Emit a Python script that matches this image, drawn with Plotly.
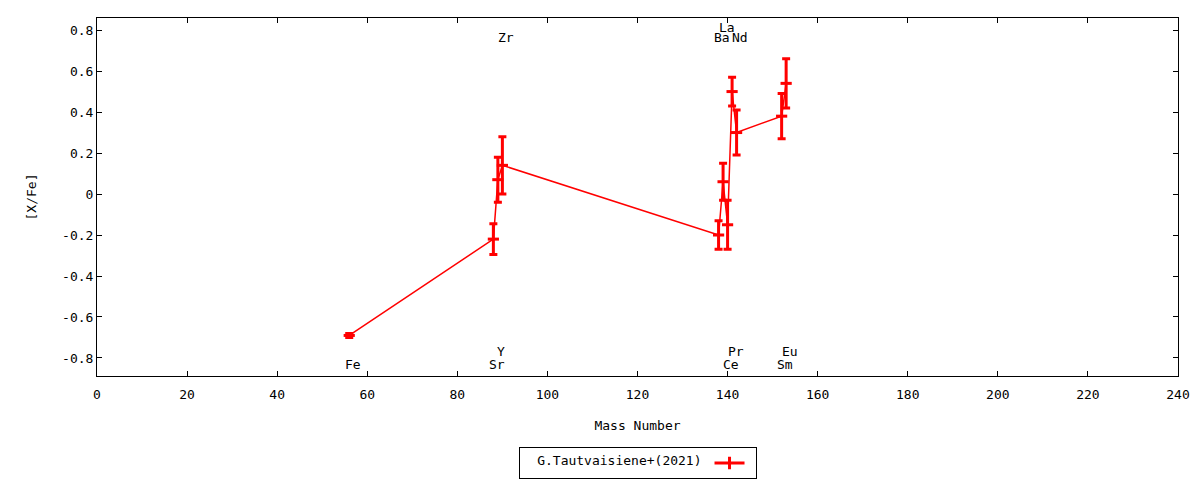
import plotly.graph_objects as go

# mass number, [X/Fe] and error for each element
elements = ["Fe", "Sr", "Y", "Zr", "Ba", "La", "Ce", "Pr", "Nd", "Sm", "Eu"]
mass = [56, 88, 89, 90, 138, 139, 140, 141, 142, 152, 153]
xfe = [-0.69, -0.22, 0.07, 0.14, -0.20, 0.06, -0.15, 0.50, 0.30, 0.38, 0.54]
err = [0.01, 0.075, 0.11, 0.14, 0.07, 0.09, 0.12, 0.07, 0.11, 0.11, 0.12]
label_y = [-0.83, -0.83, -0.77, 0.765, 0.765, 0.815, -0.83, -0.77, 0.765, -0.83, -0.77]

x_ticks = list(range(0, 241, 20))
y_ticks = [-0.8, -0.6, -0.4, -0.2, 0, 0.2, 0.4, 0.6, 0.8]
y_ticktext = ["-0.8", "-0.6", "-0.4", "-0.2", "0", "0.2", "0.4", "0.6", "0.8"]

FONT = "DejaVu Sans Mono"
RED = "#ff0000"

fig = go.Figure()
fig.add_trace(go.Scatter(
    x=mass, y=xfe, mode="lines+markers", showlegend=False,
    line=dict(color=RED, width=1.5),
    marker=dict(symbol="line-ew", size=8, color=RED, line=dict(color=RED, width=3)),
    error_y=dict(type="data", array=err, visible=True, color=RED, thickness=3, width=4),
))
# legend sample only
fig.add_trace(go.Scatter(
    x=[None], y=[None], mode="lines+markers", name="",
    line=dict(color=RED, width=3),
    marker=dict(symbol="line-ns", size=9, color=RED, line=dict(color=RED, width=3)),
))

for el, m, ly in zip(elements, mass, label_y):
    fig.add_annotation(x=m, y=ly, text=el, showarrow=False, xshift=3.5,
                       font=dict(family=FONT, size=13, color="black"))

axis_common = dict(showline=True, linecolor="black", linewidth=1, mirror="ticks",
                   ticks="inside", ticklen=5, tickcolor="black", showgrid=False,
                   zeroline=False, tickfont=dict(family=FONT, size=13, color="black"))

fig.update_xaxes(range=[0, 240], tickvals=x_ticks, ticklabelstandoff=6, **axis_common,
                 title=dict(text="Mass Number", font=dict(family=FONT, size=13, color="black"), standoff=20))
fig.update_yaxes(range=[-0.888, 0.859], tickvals=y_ticks, ticktext=y_ticktext, **axis_common,
                 title=dict(text="[X/Fe]", font=dict(family=FONT, size=13, color="black"), standoff=22))

# page body adds a small offset, so the figure is a bit smaller than the window
fig.update_layout(
    width=1192, height=472,
    margin=dict(l=89, r=22, t=10, b=104, autoexpand=False),
    plot_bgcolor="white", paper_bgcolor="white",
    font=dict(family=FONT, size=13, color="black"),
    legend=dict(orientation="h", x=0.5, xanchor="center", y=-0.243, yanchor="middle",
                bordercolor="black", borderwidth=1, bgcolor="white",
                title=dict(text="&nbsp;&nbsp;G.Tautvaisiene+(2021)", side="left",
                           font=dict(family=FONT, size=13, color="black")),
                font=dict(family=FONT, size=13, color="black")),
)

fig.write_html("out.html")
